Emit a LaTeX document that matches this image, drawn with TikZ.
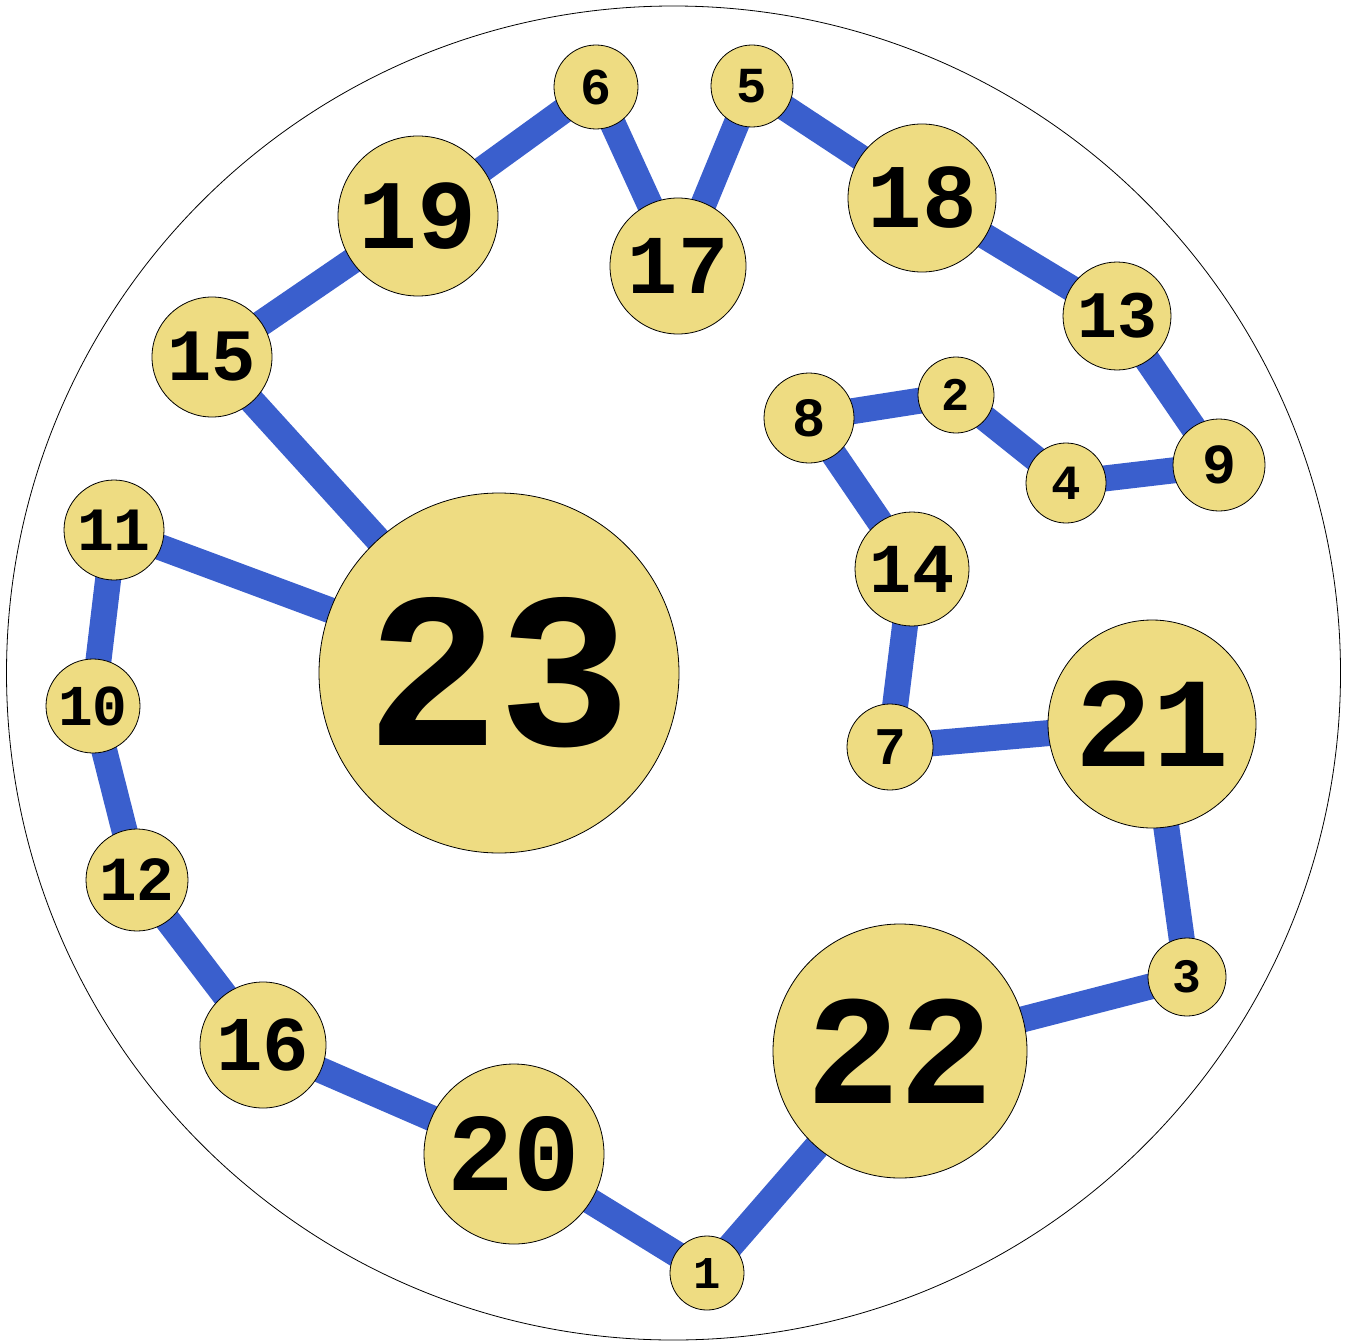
\documentclass[tikz,border=0pt]{standalone}
\usepackage{fontspec}
\newfontfamily\monob{Liberation Mono}
\definecolor{nodefill}{HTML}{EEDC82}
\definecolor{edgeblue}{HTML}{3A5FCD}
\begin{document}
\begin{tikzpicture}[x=1pt,y=-1pt,
  vert/.style={circle,draw=black,line width=0.8pt,fill=nodefill,inner sep=0pt},
  link/.style={draw=edgeblue,line width=26pt}]
\useasboundingbox (0,0) rectangle (1348,1340);
\node[circle,draw=black,line width=0.8pt,minimum size=1334pt,inner sep=0pt] (outer) at (673.5,673) {};
\foreach \n/\x/\y/\r in {23/499/673/180, 22/900/1051/127, 21/1152/724/104, 20/514/1154/90,
  19/418/216/80, 18/922/198/74, 17/678/266/68, 16/263/1045/63, 15/212/357/60,
  14/912/569/57, 13/1117/316/54, 12/137/880/51, 11/114/530/50, 10/93/706/47,
  9/1219/465/46, 8/809/418/45, 7/890/747/43, 6/596/87/42, 5/752/86/41,
  4/1066/483/40, 3/1187/977/39, 2/956/395/38, 1/707/1273/37}{
  \coordinate (c\n) at (\x,\y);
}
\foreach \a/\b in {23/15, 23/11, 15/19, 19/6, 6/17, 17/5, 5/18, 18/13, 13/9, 9/4, 4/2, 2/8,
  8/14, 14/7, 7/21, 21/3, 3/22, 22/1, 1/20, 20/16, 16/12, 12/10, 10/11}{
  \draw[link] (c\a) -- (c\b);
}
\foreach \n/\x/\y/\r in {23/499/673/180, 22/900/1051/127, 21/1152/724/104, 20/514/1154/90,
  19/418/216/80, 18/922/198/74, 17/678/266/68, 16/263/1045/63, 15/212/357/60,
  14/912/569/57, 13/1117/316/54, 12/137/880/51, 11/114/530/50, 10/93/706/47,
  9/1219/465/46, 8/809/418/45, 7/890/747/43, 6/596/87/42, 5/752/86/41,
  4/1066/483/40, 3/1187/977/39, 2/956/395/38, 1/707/1273/37}{
  \pgfmathsetmacro\fs{1.23*\r}
  \node[vert,minimum size=2*\r pt,font=\monob\bfseries\fontsize{\fs pt}{\fs pt}\selectfont] (n\n) at (\x,\y) {\n};
}
\end{tikzpicture}
\end{document}
